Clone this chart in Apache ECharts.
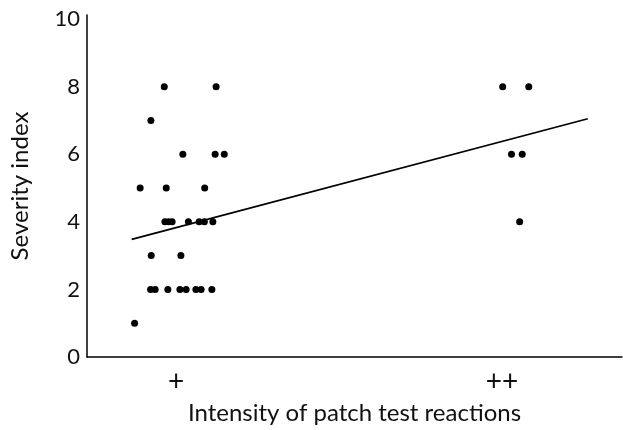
<!DOCTYPE html>
<html>
<head>
<meta charset="utf-8">
<script src="https://cdn.jsdelivr.net/npm/echarts@6/dist/echarts.min.js"></script>
<style>
  html, body { margin: 0; padding: 0; background: #fff; }
  #chart { width: 623px; height: 430px; }
</style>
</head>
<body>
<div id="chart"></div>
<script>
// category positions on the x scale: 1 = "+", 2 = "++"
const xCategories = ['+', '++'];
const xCategoryValues = [1, 2];
const yTicks = [0, 2, 4, 6, 8, 10];

// "+" group, jittered x (around 1) and severity index
const plusX = [0.964, 1.123, 0.923, 1.021, 1.120, 1.148, 0.890, 0.970, 1.088,
  0.966, 0.977, 0.988, 1.038, 1.071, 1.087, 1.113, 0.924, 1.015,
  0.922, 0.936, 0.975, 1.012, 1.031, 1.061, 1.077, 1.110, 0.873];
const plusY = [8, 8, 7, 6, 6, 6, 5, 5, 5,
  4, 4, 4, 4, 4, 4, 4, 3, 3,
  2, 2, 2, 2, 2, 2, 2, 2, 1];

// "++" group
const plusPlusX = [2.002, 2.082, 2.029, 2.062, 2.054];
const plusPlusY = [8, 8, 6, 6, 4];

// fitted line end points
const fitX = [0.864, 2.263];
const fitY = [3.48, 7.05];

const font = 'Lato, "Open Sans", sans-serif';
const chart = echarts.init(document.getElementById('chart'));

const points = plusX.map((x, i) => [x, plusY[i]])
  .concat(plusPlusX.map((x, i) => [x, plusPlusY[i]]));

chart.setOption({
  animation: false,
  grid: { left: 87, top: 15, right: 1, bottom: 73 },
  xAxis: {
    type: 'value',
    min: 0.727,
    max: 2.368,
    name: 'Intensity of patch test reactions',
    nameLocation: 'middle',
    nameGap: 43,
    nameTextStyle: { color: '#111', fontSize: 24, fontFamily: font },
    axisLine: { show: true, onZero: false, lineStyle: { color: '#000', width: 1.5 } },
    axisTick: { show: false },
    splitLine: { show: false },
    axisLabel: {
      customValues: xCategoryValues,
      margin: 11,
      color: '#111',
      fontSize: 28,
      fontFamily: font,
      formatter: v => xCategories[xCategoryValues.indexOf(v)] || ''
    }
  },
  yAxis: {
    type: 'value',
    min: 0,
    max: 10.12,
    interval: 2,
    name: 'Severity index',
    nameLocation: 'middle',
    nameGap: 55,
    nameTextStyle: { color: '#111', fontSize: 24, fontFamily: font },
    axisLine: { show: true, lineStyle: { color: '#000', width: 1.5 } },
    axisTick: { show: false },
    splitLine: { show: false },
    axisLabel: {
      customValues: yTicks,
      margin: 7,
      color: '#111',
      fontSize: 22,
      fontFamily: font
    }
  },
  series: [
    {
      type: 'scatter',
      data: points,
      symbol: 'circle',
      symbolSize: 7,
      itemStyle: { color: '#000', opacity: 1 }
    },
    {
      type: 'line',
      data: fitX.map((x, i) => [x, fitY[i]]),
      showSymbol: false,
      lineStyle: { color: '#000', width: 1.8 }
    }
  ]
});
</script>
</body>
</html>
